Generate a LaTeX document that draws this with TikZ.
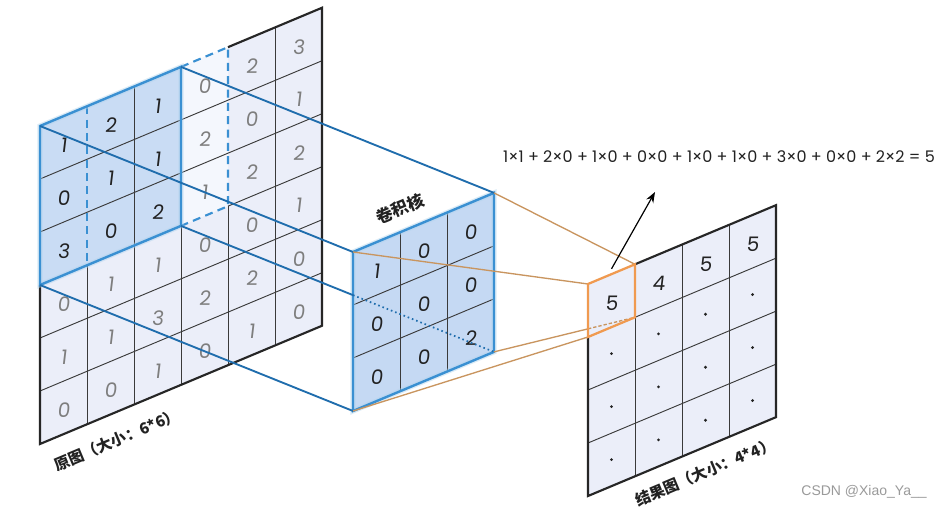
\documentclass[tikz,border=0pt]{standalone}
\usepackage{fontspec}
\setmainfont{Poppins}
\newfontfamily\numfont[FakeSlant=0.12]{Poppins}
\newfontfamily\eqfont{Poppins}
\newfontfamily\cjk{Noto Sans CJK SC}
\newfontfamily\wmfont{Liberation Sans}
\usetikzlibrary{arrows.meta}
\definecolor{cellfill}{HTML}{EBEEF9}
\definecolor{winfill}{HTML}{C9DCF4}
\definecolor{nextfill}{HTML}{F4F7FD}
\definecolor{kernfill}{HTML}{C5D9F3}
\definecolor{winblue}{HTML}{3A90D2}
\definecolor{projblue}{HTML}{1F6DAD}
\definecolor{tanline}{HTML}{C9955F}
\definecolor{orangebox}{HTML}{F09A50}
\definecolor{gridline}{HTML}{3A3A3A}
\definecolor{numgray}{HTML}{7E7E7E}
\definecolor{numdark}{HTML}{222222}
\definecolor{wmgray}{HTML}{9A9A9A}
\tikzset{
  obl/.style={x={(35.25pt,14.78pt)},y={(0pt,-39.75pt)}},
  thinln/.style={draw=gridline,line width=0.7pt},
  outerln/.style={draw=black!85,line width=1.6pt,line join=miter},
  winln/.style={draw=winblue,line width=1.8pt,line join=miter,preaction={draw=winblue!40,line width=3.8pt,opacity=0.45}},
  windash/.style={draw=winblue,line width=1.6pt,dash pattern=on 6pt off 4pt},
  projln/.style={draw=projblue,line width=1.4pt},
  projdot/.style={draw=projblue,line width=1.3pt,dash pattern=on 1.2pt off 2.2pt},
  tanln/.style={draw=tanline,line width=1pt},
  tandash/.style={draw=tanline,line width=1pt,dash pattern=on 2.5pt off 1.5pt},
  orangeln/.style={draw=orangebox,line width=1.7pt,line join=miter},
  numtxt/.style={font=\numfont\fontsize{15}{15}\selectfont,inner sep=0pt},
  odot/.style={circle,fill=numdark,inner sep=0pt,minimum size=2.3pt},
  lbl/.style={font=\cjk\bfseries\fontsize{11.5}{11.5}\selectfont,text=numdark,inner sep=0pt,rotate=22.75},
}
\begin{document}
\begin{tikzpicture}[x=0.75pt,y=-0.75pt]
\useasboundingbox[fill=white] (0,0) rectangle (942,509);

% ---------- input map 6x6 ----------
\begin{scope}[shift={(40,126)},obl]
  \fill[cellfill] (0,0)--(6,0)--(6,6)--(0,6)--cycle;
  \fill[nextfill] (3,0)--(4,0)--(4,3)--(3,3)--cycle;
  \fill[winfill] (0,0)--(3,0)--(3,3)--(0,3)--cycle;
  \foreach \j in {1,2,4,5} \draw[thinln] (0,\j)--(6,\j);
  \draw[thinln] (4,3)--(6,3);
  \draw[thinln] (1,3)--(1,6);
  \draw[thinln] (2,0)--(2,6);
  \draw[thinln] (3,3)--(3,6);
  \draw[thinln] (4,3)--(4,6);
  \draw[thinln] (5,0)--(5,6);
  \foreach \row [count=\r from 0] in {{1,2,1,0,2,3},{0,1,1,2,0,1},{3,0,2,1,2,2},{0,1,1,0,0,1},{1,1,3,2,2,0},{0,0,1,0,1,0}}{
    \foreach \v [count=\c from 0] in \row {
      \pgfmathtruncatemacro\dk{and(\r<3,\c<3)}
      \ifnum\dk=1 \def\nc{numdark}\else\def\nc{numgray}\fi
      \node[numtxt,text=\nc] (L-\r-\c) at (\c+0.5,\r+0.55) {\v};
    }
  }
  \draw[outerln] (0,3)--(0,6)--(6,6)--(6,0)--(4,0);
  \draw[windash] (1,0)--(1,3);
  \draw[windash] (3,0)--(4,0)--(4,3)--(3,3);
  \draw[winln] (0,0)--(3,0)--(3,3)--(0,3)--cycle;
  \coordinate (L00) at (0,0);
  \coordinate (L30) at (3,0);
  \coordinate (L03) at (0,3);
  \coordinate (L33) at (3,3);
\end{scope}

% ---------- kernel 3x3 ----------
\begin{scope}[shift={(353,252)},obl]
  \fill[kernfill] (0,0)--(3,0)--(3,3)--(0,3)--cycle;
  \foreach \j in {1,2} \draw[thinln] (0,\j)--(3,\j);
  \foreach \i in {1,2} \draw[thinln] (\i,0)--(\i,3);
  \foreach \row [count=\r from 0] in {{1,0,0},{0,0,0},{0,0,2}}{
    \foreach \v [count=\c from 0] in \row {
      \node[numtxt,text=numdark] (K-\r-\c) at (\c+0.5,\r+0.55) {\v};
    }
  }
  \draw[winln] (0,0)--(3,0)--(3,3)--(0,3)--cycle;
  \coordinate (K00) at (0,0);
  \coordinate (K30) at (3,0);
  \coordinate (K03) at (0,3);
  \coordinate (K33) at (3,3);
  \node[lbl,font=\cjk\bfseries\fontsize{12.5}{12.5}\selectfont] (klabel) at (1.0,-0.45) {卷积核};
\end{scope}

% projection lines input -> kernel
\coordinate (Kin) at (intersection of L33--K33 and K00--K03);
\draw[projln] (L00)--(K00);
\draw[projln] (L30)--(K30);
\draw[projln] (L03)--(K03);
\draw[projln] (L33)--(Kin);
\draw[projdot] (Kin)--(K33);

% ---------- output map 4x4 ----------
\begin{scope}[shift={(588,284)},obl]
  \fill[cellfill] (0,0)--(4,0)--(4,4)--(0,4)--cycle;
  \foreach \j in {1,2,3} \draw[thinln] (0,\j)--(4,\j);
  \foreach \i in {1,2,3} \draw[thinln] (\i,0)--(\i,4);
  \node[numtxt,text=numdark] (O-0-0) at (0.5,0.55) {5};
  \node[numtxt,text=numdark] (O-0-1) at (1.5,0.55) {4};
  \node[numtxt,text=numdark] (O-0-2) at (2.5,0.55) {5};
  \node[numtxt,text=numdark] (O-0-3) at (3.5,0.55) {5};
  \foreach \r in {1,2,3}{
    \foreach \c in {0,1,2,3}{
      \node[odot] (O-\r-\c) at (\c+0.5,\r+0.5) {};
    }
  }
  \draw[outerln] (0,1)--(0,4)--(4,4)--(4,0)--(1,0);
  \coordinate (O00) at (0,0);
  \coordinate (O10) at (1,0);
  \coordinate (O01) at (0,1);
  \coordinate (O11) at (1,1);
  \coordinate (Oarr) at (0.5,-0.1);
\end{scope}

% kernel -> output lines
\coordinate (Oin) at (intersection of K33--O11 and O00--O01);
\draw[tanln] (K00)--(O00);
\draw[tanln] (K30)--(O10);
\draw[tanln] (K03)--(O01);
\draw[tanln] (K33)--(Oin);
\draw[tandash] (Oin)--(O11);
\draw[orangeln] (O00)--(O10)--(O11)--(O01)--cycle;

% arrow and formula
\coordinate (arrtip) at (655,192);
\draw[line width=0.9pt,-{Stealth[length=8pt,width=6pt]}] (Oarr)--(arrtip);
\node[font=\eqfont\fontsize{12}{12}\selectfont,text=numdark,inner sep=0pt] (formula) at (719,157)
  {1×1 + 2×0 + 1×0 + 0×0 + 1×0 + 1×0 + 3×0 + 0×0 + 2×2 = 5};

% labels
\node[lbl] (lab1) at (117,440) {原图（大小：6*6）};
\node[lbl] (lab2) at (705,472) {结果图（大小：4*4）};
\node[font=\wmfont\fontsize{10.5}{10.5}\selectfont,text=wmgray,inner sep=0pt] (wm) at (864,492) {CSDN @Xiao\_Ya\_\_};
\end{tikzpicture}
\end{document}
